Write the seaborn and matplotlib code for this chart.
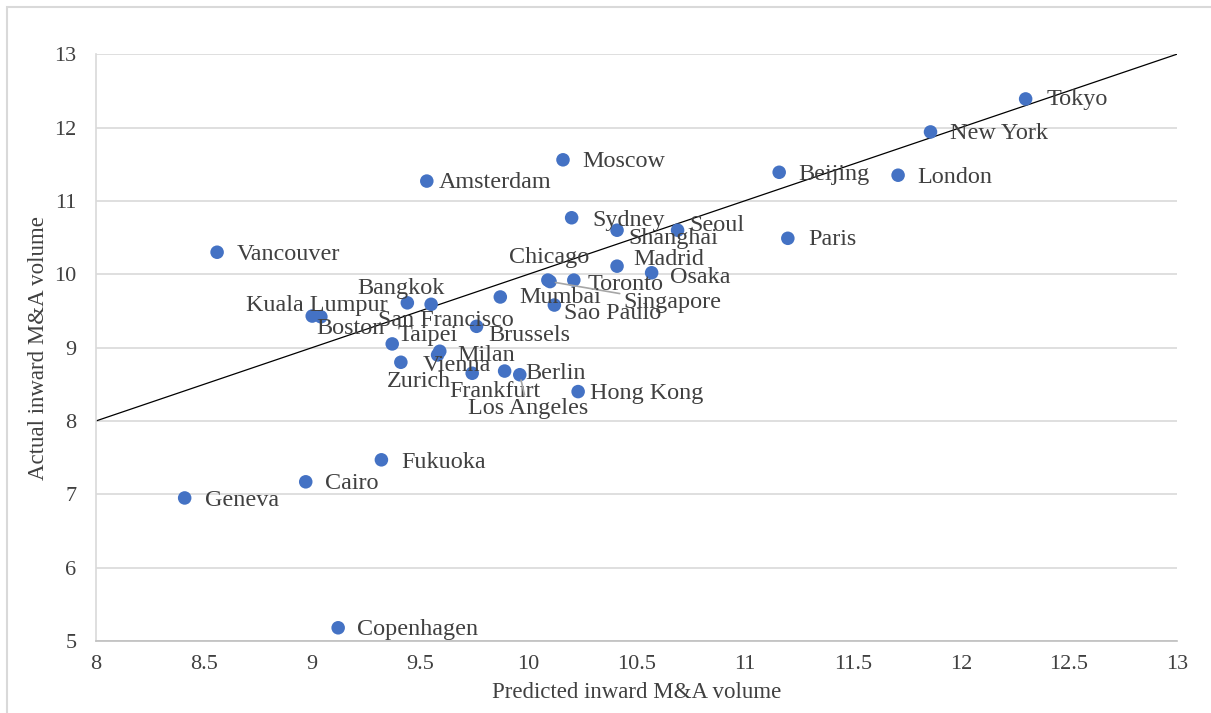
import matplotlib
matplotlib.use("Agg")
import matplotlib.pyplot as plt
import matplotlib.patches as patches
import seaborn as sns
import pandas as pd

# City data: predicted vs actual inward M&A volume
cities = ["Tokyo", "New York", "Beijing", "London", "Paris", "Seoul", "Shanghai",
          "Sydney", "Moscow", "Amsterdam", "Vancouver", "Madrid", "Osaka", "Chicago",
          "Toronto", "Singapore", "Mumbai", "Sao Paulo", "Bangkok", "San Francisco",
          "Kuala Lumpur", "Boston", "Brussels", "Taipei", "Milan", "Vienna", "Zurich",
          "Frankfurt", "Berlin", "Los Angeles", "Hong Kong", "Fukuoka", "Cairo",
          "Geneva", "Copenhagen"]
predicted = [12.30, 11.86, 11.16, 11.71, 11.20, 10.69, 10.41,
             10.20, 10.16, 9.53, 8.56, 10.41, 10.57, 10.09,
             10.21, 10.10, 9.87, 10.12, 9.44, 9.55,
             9.00, 9.04, 9.76, 9.37, 9.59, 9.58, 9.41,
             9.74, 9.89, 9.96, 10.23, 9.32, 8.97,
             8.41, 9.12]
actual = [12.39, 11.94, 11.39, 11.35, 10.49, 10.60, 10.60,
          10.77, 11.56, 11.27, 10.30, 10.11, 10.02, 9.92,
          9.92, 9.90, 9.69, 9.58, 9.61, 9.59,
          9.43, 9.42, 9.29, 9.05, 8.95, 8.90, 8.80,
          8.65, 8.68, 8.63, 8.40, 7.47, 7.17,
          6.95, 5.18]

df = pd.DataFrame({"city": cities, "predicted": predicted, "actual": actual})

# label placement (pixel offsets from the dot, horizontal alignment)
label_pos = {
    "Tokyo": (21, 1, "left"), "New York": (19, 2, "left"), "Beijing": (19, 2, "left"),
    "London": (19, 2, "left"), "Paris": (20, 1, "left"), "Seoul": (12, -5, "left"),
    "Shanghai": (11, 8, "left"), "Sydney": (21, 3, "left"), "Moscow": (19, 2, "left"),
    "Amsterdam": (12, 1, "left"), "Vancouver": (20, 2, "left"), "Madrid": (16, -7, "left"),
    "Osaka": (18, 5, "left"), "Chicago": (1, -23, "center"), "Toronto": (14, 4, "left"),
    "Singapore": (73, 21, "left"), "Mumbai": (19, 1, "left"), "Sao Paulo": (10, 8, "left"),
    "Bangkok": (-6, -14, "center"), "San Francisco": (15, 16, "center"),
    "Kuala Lumpur": (5, -11, "center"), "Boston": (30, 12, "center"),
    "Brussels": (12, 9, "left"), "Taipei": (5, -8, "left"), "Milan": (18, 4, "left"),
    "Vienna": (-15, 11, "left"), "Zurich": (18, 19, "center"),
    "Frankfurt": (23, 18, "center"), "Berlin": (21, 2, "left"),
    "Los Angeles": (8, 34, "center"), "Hong Kong": (12, 2, "left"),
    "Fukuoka": (20, 3, "left"), "Cairo": (19, 2, "left"), "Geneva": (20, 3, "left"),
    "Copenhagen": (19, 2, "left"),
}
leaders = {"Singapore", "Los Angeles"}

sns.set_theme(style="white")
plt.rcParams["font.family"] = ["Liberation Serif", "DejaVu Serif"]
text_color = "#404040"

fig = plt.figure(figsize=(12.11, 7.13), dpi=100)
ax = fig.add_axes([0.0793, 0.101, 0.8926, 0.823])

# 45 degree reference line
ax.plot([8, 13], [8, 13], color="black", lw=0.9, zorder=2)

sns.scatterplot(data=df, x="predicted", y="actual", color="#4472C4", s=95,
                edgecolor="none", ax=ax, zorder=3)

for c, xv, yv in zip(cities, predicted, actual):
    dx, dy, ha = label_pos[c]
    arrow = None
    if c in leaders:
        arrow = dict(arrowstyle="-", color="#a6a6a6", lw=1.2, shrinkA=0, shrinkB=4)
    ax.annotate(c, (xv, yv), xytext=(dx * 0.72, -dy * 0.72), textcoords="offset points",
                ha=ha, va="center", fontsize=17.4, color=text_color,
                arrowprops=arrow, zorder=4)

ax.set_xlim(8, 13)
ax.set_ylim(5, 13)
ax.set_xticks([8, 8.5, 9, 9.5, 10, 10.5, 11, 11.5, 12, 12.5, 13])
ax.set_xticklabels(["8", "8.5", "9", "9.5", "10", "10.5", "11", "11.5", "12", "12.5", "13"])
ax.set_yticks(range(5, 14))
ax.yaxis.grid(True, color="#d9d9d9", lw=1.2)
ax.xaxis.grid(False)
ax.tick_params(axis="both", length=0, labelsize=16, labelcolor=text_color)
ax.tick_params(axis="x", pad=10)
ax.tick_params(axis="y", pad=14)
for side in ["right", "top"]:
    ax.spines[side].set_visible(False)
ax.spines["left"].set_color("#d9d9d9")
ax.spines["left"].set_linewidth(1.2)
ax.spines["bottom"].set_color("#bfbfbf")
ax.spines["bottom"].set_linewidth(1.2)

ax.set_xlabel("Predicted inward M&A volume", fontsize=16.5, color=text_color, labelpad=6)
ax.set_ylabel("Actual inward M&A volume", fontsize=16.5, color=text_color, labelpad=4)

# chart border
fig.add_artist(patches.Rectangle((0.006, -0.01), 1.0, 1.0, transform=fig.transFigure,
                                 fill=False, ec="#d9d9d9", lw=1.5))

fig.savefig("out.png", dpi=100)
